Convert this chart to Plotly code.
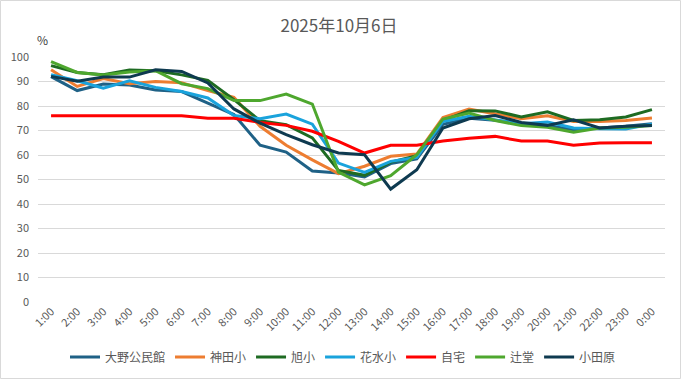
import plotly.graph_objects as go

hours = ["1:00", "2:00", "3:00", "4:00", "5:00", "6:00", "7:00", "8:00", "9:00", "10:00",
         "11:00", "12:00", "13:00", "14:00", "15:00", "16:00", "17:00", "18:00", "19:00",
         "20:00", "21:00", "22:00", "23:00", "0:00"]

ono = [92, 86.3, 89, 88.6, 86.5, 85.9, 81.2, 76.5, 64, 61.2, 53.5, 52.7, 51, 56.5, 58.4,
       72.5, 75, 74.2, 72.7, 72, 70.3, 71, 71.7, 72.8]
kanda = [94.8, 88, 91.2, 89.1, 90, 89.5, 86.3, 83.5, 71.7, 64, 58, 52.4, 55.4, 59.5, 60.4,
         75.3, 78.8, 76.9, 74.8, 76, 73.7, 73.7, 74.1, 75.1]
asahi = [96.5, 93.7, 92.8, 94.7, 94.4, 92.7, 90.5, 82.6, 74, 72.4, 67, 53.7, 51.7, 57.1, 59.7,
         74.1, 78.1, 78, 75.5, 77.6, 74.1, 74.4, 75.5, 78.5]
hanamizu = [92.8, 90.3, 87.3, 90.3, 87.6, 85.9, 83.3, 76.1, 74.8, 76.7, 72.6, 56.7, 52.9, 57.4, 59,
            73.7, 75.8, 74.4, 72.8, 73.5, 71, 70.7, 70.6, 72.6]
jitaku = [76, 76, 76, 76, 76, 76, 75, 75, 73.3, 72.1, 69.7, 65.6, 60.8, 64, 64,
          65.7, 66.8, 67.6, 65.7, 65.7, 64, 64.9, 65, 65]
tsujido = [98.1, 93.7, 92.7, 93.9, 94.4, 89.1, 87.1, 82.2, 82.2, 84.9, 80.8, 53, 47.8, 51.6, 60.1,
           74.7, 77.1, 74.1, 72, 71.3, 69.3, 71, 71.3, 72]
odawara = [92.1, 90.1, 91.8, 91.8, 94.8, 94.1, 89.4, 78.8, 73, 68.3, 64.2, 60.8, 60.1, 46.1, 54,
           71, 74.8, 76.1, 73.3, 72.1, 74.4, 71, 71.7, 72]

series_names = ["大野公民館", "神田小", "旭小", "花水小", "自宅", "辻堂", "小田原"]
series_values = [ono, kanda, asahi, hanamizu, jitaku, tsujido, odawara]
colors = ["#1f6186", "#ed7d31", "#1e6b22", "#1aa3dc", "#ff0000", "#4ea72e", "#0e3a50"]

title_text = "2025年10月6日"
y_unit = "%"

FONT = "Noto Sans CJK JP, Noto Sans, sans-serif"

fig = go.Figure()
for name, vals, col in zip(series_names, series_values, colors):
    fig.add_trace(go.Scatter(x=hours, y=vals, name=name, mode="lines",
                             line=dict(color=col, width=3)))

W, H = 681, 379
ml, mr, mt, mb = 38, 16, 57, 77
pw, ph = W - ml - mr, H - mt - mb

fig.update_layout(
    width=W, height=H,
    margin=dict(l=ml, r=mr, t=mt, b=mb, pad=0, autoexpand=False),
    paper_bgcolor="white", plot_bgcolor="white",
    font=dict(family=FONT, color="#595959", size=11),
    title=dict(text=title_text, x=(339 - ml) / pw, xref="paper", xanchor="center",
               y=1 - 26 / H, yanchor="middle",
               font=dict(size=17, color="#595959", family=FONT), automargin=False),
    showlegend=True,
    legend=dict(orientation="h", x=(343 - ml) / pw, xanchor="center",
                y=(H - mb - 357) / ph, yanchor="middle",
                font=dict(size=12, color="#595959", family=FONT),
                itemwidth=30, tracegroupgap=0, bgcolor="rgba(0,0,0,0)"),
    xaxis=dict(type="category", categoryorder="array", categoryarray=hours,
               tickangle=-45, showgrid=False, showline=False, zeroline=False,
               ticks="", tickfont=dict(size=11, color="#595959"), automargin=False,
               range=[-0.5, len(hours) - 0.5], fixedrange=True),
    yaxis=dict(range=[0, 100], dtick=10, tick0=0, showgrid=True, gridcolor="#d9d9d9",
               gridwidth=1, zeroline=False, showline=False, ticks="", automargin=False,
               ticklabelstandoff=8,
               tickfont=dict(size=11, color="#595959"), fixedrange=True),
    annotations=[dict(text=y_unit, xref="paper", yref="paper",
                      x=(42 - ml) / pw, y=(H - mb - 39) / ph,
                      xanchor="center", yanchor="middle", showarrow=False,
                      font=dict(size=12, color="#404040", family=FONT))],
    shapes=[dict(type="rect", xref="paper", yref="paper",
                 x0=(0.5 - ml) / pw, x1=(W - 0.5 - ml) / pw,
                 y0=(H - mb - (H - 0.5)) / ph, y1=(H - mb - 0.5) / ph,
                 line=dict(color="#d9d9d9", width=1), fillcolor="rgba(0,0,0,0)",
                 layer="below")],
)

fig.write_html("out.html", config={"displayModeBar": False},
               post_script="document.body.style.margin='0';document.body.style.padding='0';")
